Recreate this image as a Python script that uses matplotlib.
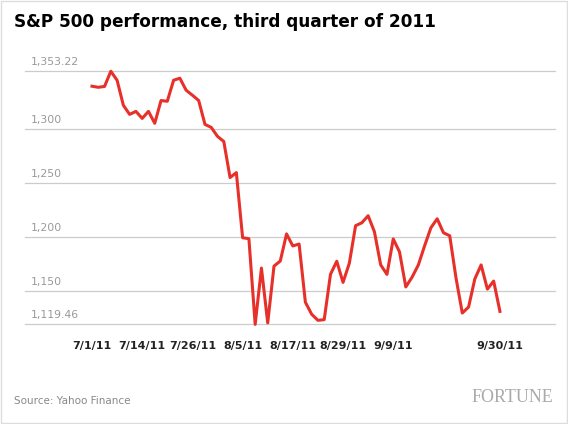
import matplotlib
matplotlib.use("Agg")
import matplotlib.pyplot as plt
from matplotlib.patches import Rectangle

values = [1339.2, 1338.2, 1339.0, 1353.0, 1344.7, 1321.6, 1313.2, 1316.0, 1309.5, 1316.0,
          1305.0, 1326.0, 1325.3, 1344.7, 1346.6, 1335.5, 1330.9, 1326.0, 1304.0, 1301.2,
          1292.9, 1288.2, 1254.9, 1259.5, 1199.4, 1198.5, 1119.46, 1171.4, 1120.8, 1173.2,
          1177.9, 1202.9, 1191.8, 1193.6, 1139.9, 1128.8, 1123.2, 1123.8, 1165.6, 1177.7,
          1158.2, 1175.8, 1210.5, 1213.2, 1219.7, 1204.9, 1174.3, 1165.6, 1198.3, 1186.3,
          1154.0, 1163.0, 1174.3, 1192.0, 1208.6, 1216.9, 1204.0, 1201.2, 1162.3, 1129.9,
          1135.4, 1161.4, 1174.3, 1152.0, 1159.4, 1131.4]
x_tick_pos = [0, 8, 16, 24, 32, 40, 48, 65]
x_tick_labels = ["7/1/11", "7/14/11", "7/26/11", "8/5/11", "8/17/11", "8/29/11", "9/9/11", "9/30/11"]
y_ticks = [1119.46, 1150, 1200, 1250, 1300, 1353.22]
y_labels = ["1,119.46", "1,150", "1,200", "1,250", "1,300", "1,353.22"]

fig = plt.figure(figsize=(5.68, 4.24), dpi=100)
ax = fig.add_axes([0.044, 0.235, 0.933, 0.623])
n = len(values)
xs = list(range(n))
ax.plot(xs, values, color="#e8302a", lw=2.2, clip_on=False, zorder=3)
step = 408 / (n - 1)
ax.set_xlim(-67 / step, (555 - 92) / step)
ax.set_ylim(1119.46, 1363.2)
for v in y_ticks:
    ax.axhline(v, color="#cccccc", lw=0.9, zorder=1, clip_on=False)
ax.set_yticks([])
ax.set_xticks(x_tick_pos)
ax.set_xticklabels(x_tick_labels, fontsize=8, fontweight="bold", color="#222222")
ax.tick_params(axis="x", length=0, pad=12)
for s in ax.spines.values():
    s.set_visible(False)
for v, l in zip(y_ticks, y_labels):
    ax.annotate(l, xy=(0, v), xycoords=("axes fraction", "data"), xytext=(4, 3),
                textcoords="offset points", fontsize=7.8, color="#999999", va="bottom")
fig.text(14 / 568, 1 - 22 / 424, "S&P 500 performance, third quarter of 2011", fontsize=12.2,
         fontweight="bold", va="center", ha="left")
fig.text(14 / 568, 1 - 401 / 424, "Source: Yahoo Finance", fontsize=7.5, color="#888888", va="center")
fig.text(553 / 568, 1 - 398 / 424, "FORTUNE", fontsize=13, color="#aaaaaa", va="center", ha="right",
         family="Liberation Serif")
fig.patches.append(Rectangle((0.002, 0.002), 0.996, 0.996, transform=fig.transFigure,
                             fill=False, ec="#dddddd", lw=1))
fig.savefig("out.png", dpi=100)
